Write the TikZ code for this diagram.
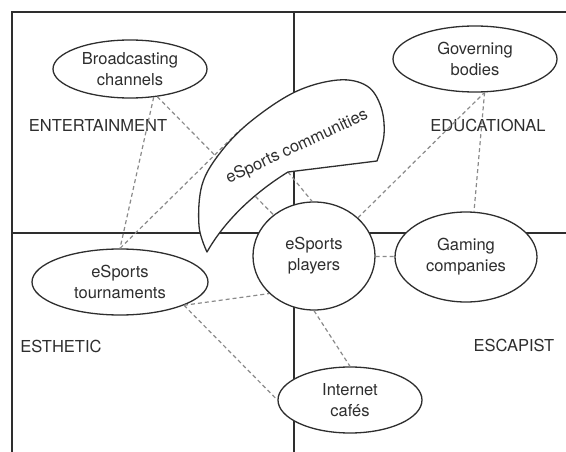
\documentclass[tikz,border=0pt]{standalone}
\usepackage{fontspec}
\setmainfont{TeX Gyre Heros}
\usetikzlibrary{shapes.geometric}

\definecolor{ink}{HTML}{2E2E2E}
\definecolor{dashgray}{HTML}{8A8A8A}

\tikzset{
  actor/.style={ellipse, draw=ink, line width=1.3pt, fill=white, inner sep=0pt, align=center, text=ink},
  realm/.style={text=ink},
  link/.style={dashgray, dashed, line width=1.2pt, dash pattern=on 4pt off 3pt},
  frame/.style={ink, line width=1.6pt}
}

\begin{document}
\begin{tikzpicture}[x=1pt, y=-1pt, font=\fontsize{16.5}{21}\selectfont]

      \useasboundingbox (0,0) rectangle (566,452);

      \draw[frame] (12,452) -- (12,12) -- (566,12);
      \draw[frame] (294,12) -- (294,452);
      \draw[frame] (12,233) -- (566,233);

      \node[realm] (ent) at (98,125) {ENTERTAINMENT};
      \node[realm] (edu) at (488,125) {EDUCATIONAL};
      \node[realm] (est) at (61,346) {ESTHETIC};
      \node[realm] (esc) at (514,345) {ESCAPIST};

      \node[actor, minimum width=154pt, minimum height=58pt] (bc) at (130,69) {Broadcasting\\channels};
      \node[actor, minimum width=164pt, minimum height=66pt] (gov) at (475,59) {Governing\\bodies};
      \node[actor, minimum width=176pt, minimum height=66pt] (tour) at (120,282) {eSports\\tournaments};
      \node[actor, minimum width=122pt, minimum height=108pt] (players) at (314,256) {eSports\\players};
      \node[actor, minimum width=142pt, minimum height=90pt] (gaming) at (466,257) {Gaming\\companies};
      \node[actor, minimum width=144pt, minimum height=66pt] (cafes) at (350,400) {Internet\\cafés};

      \coordinate (commA) at (240,130);
      \coordinate (commB) at (288,172);

      \draw[link] (bc) -- (players);
      \draw[link] (bc.-50) -- (tour.north);
      \draw[link] (tour.north) -- (commA);
      \draw[link] (commB) -- (players.92);
      \draw[link] (tour.-20) -- (players.-140);
      \draw[link] (tour.-20) -- (cafes.west);
      \draw[link] (players.south) -- (cafes.north);
      \draw[link] (players) -- (gaming);
      \draw[link] (players.41) -- (gov.-74);
      \draw[link] (gov.-74) -- (gaming.80);

      \draw[ink, line width=1.3pt, fill=white, line join=round]
        plot[smooth, tension=0.6] coordinates {(207,252) (199,226) (202,185) (220,153) (250,122) (295,92) (338,80) (367,86) (381,107) (384,135) (377,161)}
        -- (commB) .. controls (262,188) and (228,215) .. (207,252) -- cycle;
      \node[realm, rotate=25] (comm) at (297,147) {eSports communities};

\end{tikzpicture}
\end{document}
